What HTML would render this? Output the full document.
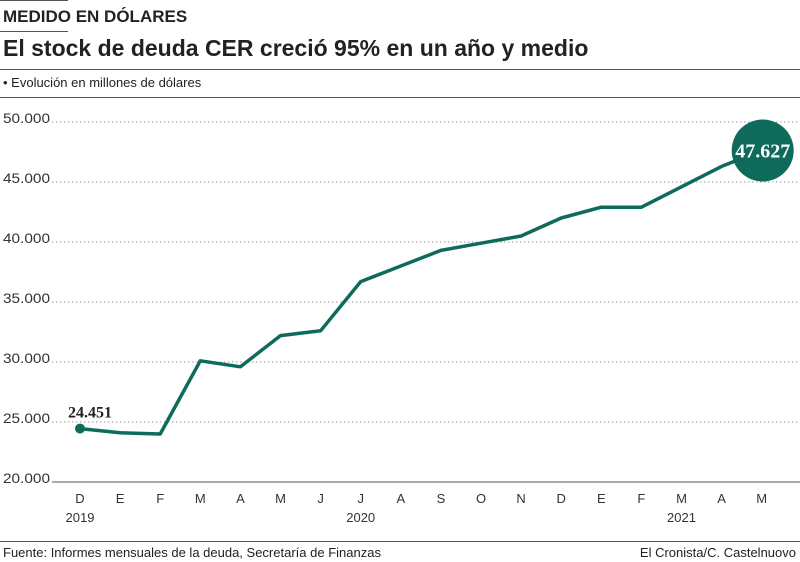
<!DOCTYPE html>
<html><head><meta charset="utf-8"><style>
body{margin:0;width:800px;height:562px;background:#fff;font-family:"Liberation Sans",sans-serif;overflow:hidden;position:relative}
.a{position:absolute;white-space:nowrap;color:#222}
</style></head><body>
<div class="a" style="left:0;top:0;width:68px;height:1px;background:#555"></div>
<div class="a" style="left:3px;top:7px;font-size:17px;font-weight:bold">MEDIDO EN DÓLARES</div>
<div class="a" style="left:0;top:31px;width:68px;height:1px;background:#555"></div>
<div class="a" style="left:3px;top:35px;font-size:23px;font-weight:bold">El stock de deuda CER creció 95% en un año y medio</div>
<div class="a" style="left:0;top:69px;width:800px;height:1px;background:#555"></div>
<div class="a" style="left:3px;top:75px;font-size:13px">• Evolución en millones de dólares</div>
<div class="a" style="left:0;top:97px;width:800px;height:1px;background:#555"></div>
<svg class="a" style="left:0;top:0" width="800" height="562" id="chart"></svg>
<div class="a" style="left:0;top:541px;width:800px;height:1px;background:#555"></div>
<div class="a" style="left:3px;top:545px;font-size:13px">Fuente: Informes mensuales de la deuda, Secretaría de Finanzas</div>
<div class="a" style="right:4px;top:545px;font-size:13px">El Cronista/C. Castelnuovo</div>
<script>
const months=["D","E","F","M","A","M","J","J","A","S","O","N","D","E","F","M","A","M"];
const values=[24451,24100,24000,30100,29600,32200,32600,36700,38000,39300,39900,40500,42000,42900,42900,44600,46300,47627];
const yTicks=[20000,25000,30000,35000,40000,45000,50000];
const yearLabels=[[0,"2019"],[7,"2020"],[15,"2021"]];
const svg=document.getElementById('chart');const NS="http://www.w3.org/2000/svg";
const x=i=>80+i*40.1;const y=v=>482-(v-20000)*0.012;
function mk(t,a,txt){const e=document.createElementNS(NS,t);for(const k in a)e.setAttribute(k,a[k]);if(txt!=null)e.textContent=txt;svg.appendChild(e);return e;}
const fmt=v=>v.toLocaleString('de-DE');
yTicks.forEach(t=>{
const g=mk('line',{x1:52,x2:800,y1:y(t),y2:y(t),stroke:t===20000?'#555':'#999','stroke-dasharray':t===20000?'':'1.5,2.5','stroke-width':1});


const l=mk('text',{x:3,y:y(t)+1,'font-size':14,fill:'#333','font-family':'Liberation Sans',textLength:47,lengthAdjust:'spacingAndGlyphs'},fmt(t));


});
months.forEach((m,i)=>{
const t=mk('text',{x:x(i),y:503,'font-size':13,fill:'#333','text-anchor':'middle','font-family':'Liberation Sans'},m);


});
yearLabels.forEach(([i,s])=>{
const t=mk('text',{x:x(i),y:522,'font-size':13,fill:'#333','text-anchor':'middle','font-family':'Liberation Sans'},s);


});
const p=mk('polyline',{points:values.map((v,i)=>x(i)+','+y(v)).join(' '),fill:'none',stroke:'#0e6b5c','stroke-width':3.5,'stroke-linejoin':'round'});


const c0=mk('circle',{cx:x(0),cy:y(values[0]),r:5,fill:'#0e6b5c'});


const l0=mk('text',{x:x(0)-12,y:y(values[0])-11,'font-size':16,'font-weight':'bold',fill:'#222','font-family':'Liberation Serif'},fmt(values[0]));


const n=values.length-1;
const c1=mk('circle',{cx:x(n)+1,cy:y(values[n]),r:31,fill:'#0e6b5c'});


const l1=mk('text',{x:x(n)+1,y:y(values[n])+7,'font-size':20,'font-weight':'bold',fill:'#fff','text-anchor':'middle','font-family':'Liberation Serif'},fmt(values[n]));


</script>
</body></html>
